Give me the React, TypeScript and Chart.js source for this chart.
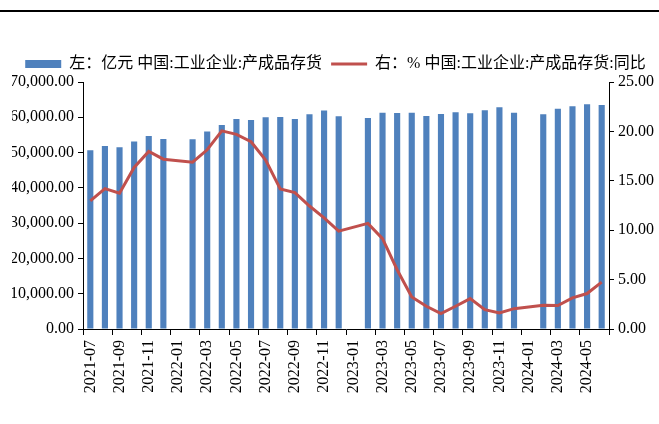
import React, { useEffect, useRef } from 'react';
import { Chart, registerables } from 'chart.js';

Chart.register(...registerables);

const categories = [
  '2021-07', '2021-08', '2021-09', '2021-10', '2021-11', '2021-12',
  '2022-01', '2022-02', '2022-03', '2022-04', '2022-05', '2022-06',
  '2022-07', '2022-08', '2022-09', '2022-10', '2022-11', '2022-12',
  '2023-01', '2023-02', '2023-03', '2023-04', '2023-05', '2023-06',
  '2023-07', '2023-08', '2023-09', '2023-10', '2023-11', '2023-12',
  '2024-01', '2024-02', '2024-03', '2024-04', '2024-05', '2024-06',
];

const inventory = [
  50660, 51890, 51510, 53110, 54720, 53870,
  null, 53770, 55940, 57830, 59530, 59250,
  60000, 60090, 59530, 60850, 61890, 60280,
  null, 59810, 61320, 61230, 61320, 60380,
  60940, 61420, 61130, 61980, 62830, 61320,
  null, 60850, 62450, 63110, 63680, 63490,
];

const inventoryYoY = [
  12.96, 14.21, 13.74, 16.35, 17.97, 17.19,
  null, 16.89, 18.14, 20.05, 19.7, 18.95,
  17.1, 14.17, 13.8, 12.45, 11.25, 9.9,
  null, 10.69, 9.14, 6.0, 3.25, 2.3,
  1.56, 2.3, 3.08, 1.96, 1.62, 2.06,
  null, 2.4, 2.37, 3.15, 3.59, 4.74,
];

const barLabel = '左：亿元 中国:工业企业:产成品存货';
const lineLabel = '右：% 中国:工业企业:产成品存货:同比';

const leftTicks = [0, 10000, 20000, 30000, 40000, 50000, 60000, 70000];
const rightTicks = [0, 5, 10, 15, 20, 25];

const BAR_COLOR = '#4F81BD';
const LINE_COLOR = '#C0504D';
const FONT = "'Liberation Serif', 'Times New Roman', 'Noto Sans CJK SC', serif";

export default function App() {
  const ref = useRef<HTMLCanvasElement | null>(null);

  useEffect(() => {
    if (!ref.current) return;
    const chart = new Chart(ref.current, {
      data: {
        labels: categories,
        datasets: [
          {
            type: 'line',
            label: lineLabel,
            data: inventoryYoY,
            yAxisID: 'y1',
            borderColor: LINE_COLOR,
            backgroundColor: LINE_COLOR,
            borderWidth: 3,
            pointRadius: 0,
            tension: 0,
            spanGaps: true,
            order: 0,
          },
          {
            type: 'bar',
            label: barLabel,
            data: inventory,
            yAxisID: 'y',
            backgroundColor: BAR_COLOR,
            categoryPercentage: 1,
            barPercentage: 0.42,
            order: 1,
          },
        ],
      } as any,
      options: {
        responsive: true,
        maintainAspectRatio: false,
        animation: false,
        layout: { padding: { top: 47, left: 12, right: 0, bottom: 0 } },
        plugins: {
          tooltip: { enabled: false },
          legend: {
            position: 'top',
            labels: {
              usePointStyle: true,
              pointStyleWidth: 36,
              boxHeight: 8,
              padding: 9,
              color: '#000',
              font: { family: FONT, size: 16 },
              generateLabels: () => [
                {
                  text: barLabel,
                  fillStyle: BAR_COLOR,
                  strokeStyle: BAR_COLOR,
                  lineWidth: 0,
                  pointStyle: 'rect',
                  datasetIndex: 1,
                  hidden: false,
                  fontColor: '#000',
                },
                {
                  text: lineLabel,
                  fillStyle: LINE_COLOR,
                  strokeStyle: LINE_COLOR,
                  lineWidth: 3,
                  pointStyle: 'line',
                  datasetIndex: 0,
                  hidden: false,
                  fontColor: '#000',
                },
              ],
            },
          },
        },
        scales: {
          x: {
            type: 'category',
            offset: true,
            grid: {
              offset: true,
              drawOnChartArea: false,
              tickLength: 6,
              color: (ctx: any) =>
                ctx.type !== 'tick' || ctx.index % 2 === 0 ? '#000' : 'rgba(0,0,0,0)',
            },
            border: { color: '#000', width: 1 },
            ticks: {
              autoSkip: false,
              maxRotation: 90,
              minRotation: 90,
              padding: 5,
              color: '#000',
              font: { family: FONT, size: 16 },
              callback: (_v: any, i: number) => (i % 2 === 0 ? categories[i] : ''),
            },
            afterFit: (s: any) => {
              s.height = 95;
            },
          },
          y: {
            type: 'linear',
            position: 'left',
            min: 0,
            max: 70000,
            afterBuildTicks: (s: any) => {
              s.ticks = leftTicks.map((v) => ({ value: v }));
            },
            grid: { drawOnChartArea: false, tickLength: 5, color: '#000' },
            border: { color: '#000', width: 1 },
            ticks: {
              padding: 4,
              color: '#000',
              font: { family: FONT, size: 16 },
              callback: (v: any) =>
                Number(v).toLocaleString('en-US', {
                  minimumFractionDigits: 2,
                  maximumFractionDigits: 2,
                }),
            },
            afterFit: (s: any) => {
              s.width = 71;
            },
          },
          y1: {
            type: 'linear',
            position: 'right',
            min: 0,
            max: 25,
            afterBuildTicks: (s: any) => {
              s.ticks = rightTicks.map((v) => ({ value: v }));
            },
            grid: { drawOnChartArea: false, tickLength: 5, color: '#000' },
            border: { color: '#000', width: 1 },
            ticks: {
              padding: 4,
              color: '#000',
              font: { family: FONT, size: 16 },
              callback: (v: any) => Number(v).toFixed(2),
            },
            afterFit: (s: any) => {
              s.width = 50;
            },
          },
        },
      } as any,
    });
    return () => chart.destroy();
  }, []);

  return (
    <div
      style={{
        position: 'fixed',
        left: 0,
        top: 0,
        width: 659,
        height: 424,
        background: '#fff',
      }}
    >
      <div
        style={{
          position: 'absolute',
          left: 0,
          top: 10,
          width: 659,
          height: 2,
          background: '#000',
        }}
      />
      <canvas ref={ref} style={{ width: '100%', height: '100%' }} />
    </div>
  );
}
